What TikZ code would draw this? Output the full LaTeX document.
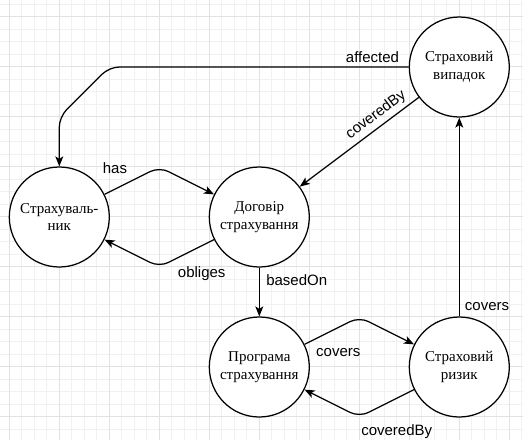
\documentclass[tikz,border=0pt]{standalone}
\usepackage{fontspec}
\setmainfont{Liberation Serif}
\newfontfamily\labelfont{Liberation Sans}
\usetikzlibrary{arrows.meta}
\definecolor{gridminor}{HTML}{F1F1F1}
\definecolor{gridmajor}{HTML}{E2E2E2}
\tikzset{
  concept/.style={circle,draw=black,fill=white,line width=1.25pt,minimum size=100pt,inner sep=0pt,
    align=center,font=\fontsize{15}{17.5}\selectfont},
  rel/.style={-{Stealth[length=10pt,width=8pt,inset=2.5pt]},line width=1.25pt,rounded corners=10pt},
  rellabel/.style={font=\labelfont\fontsize{15}{18}\selectfont,inner sep=0pt,anchor=base},
}

\begin{document}
\begin{tikzpicture}[x=1pt,y=-1pt]
      \fill[white] (0,0) rectangle (523,440);
      \useasboundingbox (0,0) rectangle (523,440);
      \foreach \x in {9.3,21.8,...,523} \draw[gridminor,line width=0.7pt] (\x,0) -- (\x,440);
      \foreach \y in {4.2,16.7,...,440} \draw[gridminor,line width=0.7pt] (0,\y) -- (523,\y);
      \foreach \x in {9.3,59.3,...,523} \draw[gridmajor,line width=0.7pt] (\x,0) -- (\x,440);
      \foreach \y in {16.7,66.7,...,440} \draw[gridmajor,line width=0.7pt] (0,\y) -- (523,\y);
      \node[concept] (insurant) at (59.3,217) {Страхуваль-\\ник};
      \node[concept] (contract) at (259.3,217) {Договір\\страхування};
      \node[concept] (event) at (459.3,67) {Страховий\\випадок};
      \node[concept] (program) at (259.3,367) {Програма\\страхування};
      \node[concept] (risk) at (459.3,367) {Страховий\\ризик};
      \draw[rel] (event) -- (109.3,67) -- (59.3,117) -- (insurant);
      \draw[rel] (event) -- (contract);
      \draw[rel] (insurant) -- (159.3,167) -- (contract);
      \draw[rel] (contract) -- (159.3,267) -- (insurant);
      \draw[rel] (contract) -- (program);
      \draw[rel] (program) -- (359.3,317) -- (risk);
      \draw[rel] (risk) -- (359.3,417) -- (program);
      \draw[rel] (risk) -- (event);
      \node[rellabel] (affectedlbl) at (372.5,62) {affected};
      \node[rellabel,anchor=center,rotate=37] (coveredbyevent) at (376,115) {coveredBy};
      \node[rellabel] (haslbl) at (115,173) {has};
      \node[rellabel] (obligeslbl) at (201.7,277.5) {obliges};
      \node[rellabel] (basedonlbl) at (296.7,285.7) {basedOn};
      \node[rellabel] (coverslbl) at (338.3,356.7) {covers};
      \node[rellabel] (coveredbyrisk) at (396.7,435) {coveredBy};
      \node[rellabel] (coversevent) at (487,310.7) {covers};
    \end{tikzpicture}
\end{document}
